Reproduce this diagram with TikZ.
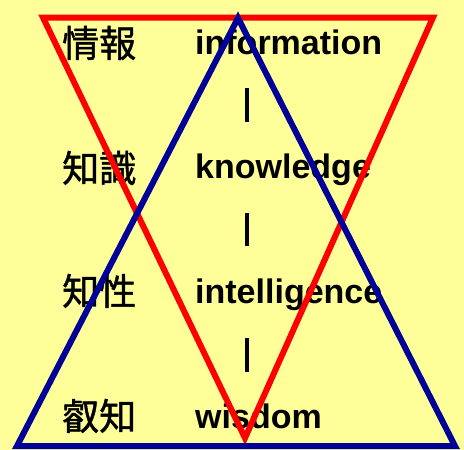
\documentclass[tikz,border=0pt]{standalone}
\usepackage{fontspec}
\setmainfont{Liberation Sans}
\newfontfamily\jpfont{Noto Sans CJK JP}[BoldFont={Noto Sans CJK JP},BoldFeatures={FakeBold=1.2}]
\definecolor{bgyellow}{HTML}{FFFF99}
\definecolor{tred}{HTML}{FF0000}
\definecolor{tblue}{HTML}{000099}
\begin{document}
\begin{tikzpicture}[x=1pt,y=-1pt,
  jp/.style={anchor=base west,inner sep=0pt,font=\jpfont\bfseries\fontsize{37}{37}\selectfont},
  en/.style={anchor=base west,inner sep=0pt,font=\bfseries\fontsize{34}{34}\selectfont},
  bar/.style={line width=4.5pt},
  tri/.style={line width=6pt,line join=miter}]
\fill[bgyellow] (0,0) rectangle (464,450);
\useasboundingbox (0,0) rectangle (464,450);
% labels
\node[jp] (j1) at (62,57) {情報};
\node[jp] (j2) at (62,182) {知識};
\node[jp] (j3) at (62,305) {知性};
\node[jp] (j4) at (62,430) {叡知};
\node[en] (e1) at (195,54) {information};
\node[en] (e2) at (195,178) {knowledge};
\node[en] (e3) at (195,303) {intelligence};
\node[en] (e4) at (195,428) {wisdom};
% bars
\coordinate (b1t) at (247,88); \coordinate (b1b) at (247,122);
\coordinate (b2t) at (247,213); \coordinate (b2b) at (247,246);
\coordinate (b3t) at (247,338); \coordinate (b3b) at (247,372);
\draw[bar] (b1t) -- (b1b);
\draw[bar] (b2t) -- (b2b);
\draw[bar] (b3t) -- (b3b);
% triangles
\coordinate (r1) at (43,17.5);
\coordinate (r2) at (433,17.5);
\coordinate (r3) at (245,438);
\coordinate (u1) at (238,18);
\coordinate (u2) at (17,446);
\coordinate (u3) at (455,446);
\draw[tri,tred] (r1) -- (r2) -- (r3) -- cycle;
\draw[tri,tblue] (u1) -- (u2) -- (u3) -- cycle;
\end{tikzpicture}
\end{document}
